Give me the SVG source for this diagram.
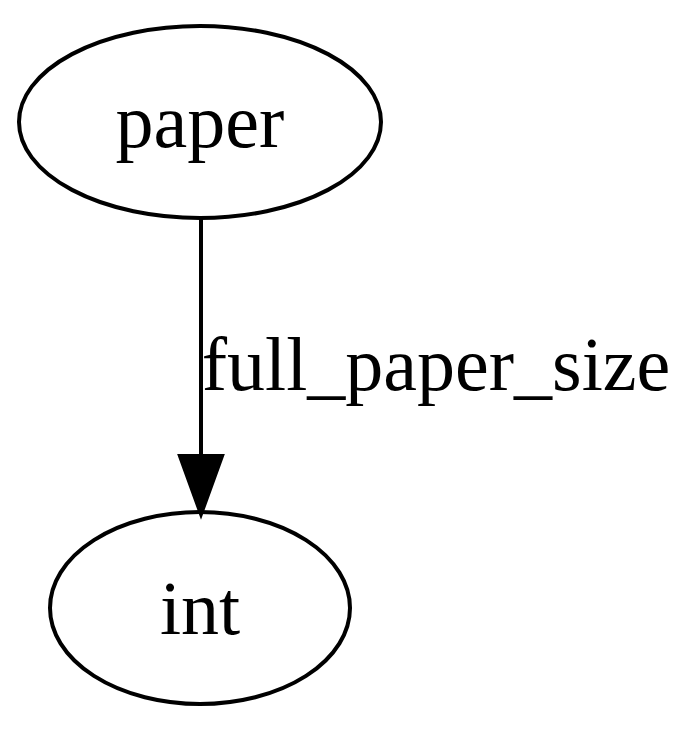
<svg xmlns="http://www.w3.org/2000/svg" width="700" height="733" viewBox="0 0 700 733">
<style>
.n{fill:none;stroke:#000;stroke-width:4}
.t{font-family:"Liberation Serif","Times New Roman",serif;font-size:76px;fill:#000;text-anchor:middle}
.e{stroke:#000;stroke-width:4;fill:none}
.a{fill:#000;stroke:#000;stroke-width:4}
</style>
<rect width="700" height="733" fill="#fff"/>
<g id="paper">
<ellipse class="n" cx="200" cy="122" rx="181" ry="96"/>
<text class="t" x="200" y="147">paper</text>
</g>
<g id="int">
<ellipse class="n" cx="200" cy="608" rx="150" ry="96"/>
<text class="t" x="200" y="634">int</text>
</g>
<g id="edges">
<line class="e" x1="201" y1="219" x2="201" y2="456"/>
<path class="a" d="M180,456 L201,514 L222,456 Z"/>
<text class="t" x="436" y="390">full_paper_size</text>
</g>
</svg>
